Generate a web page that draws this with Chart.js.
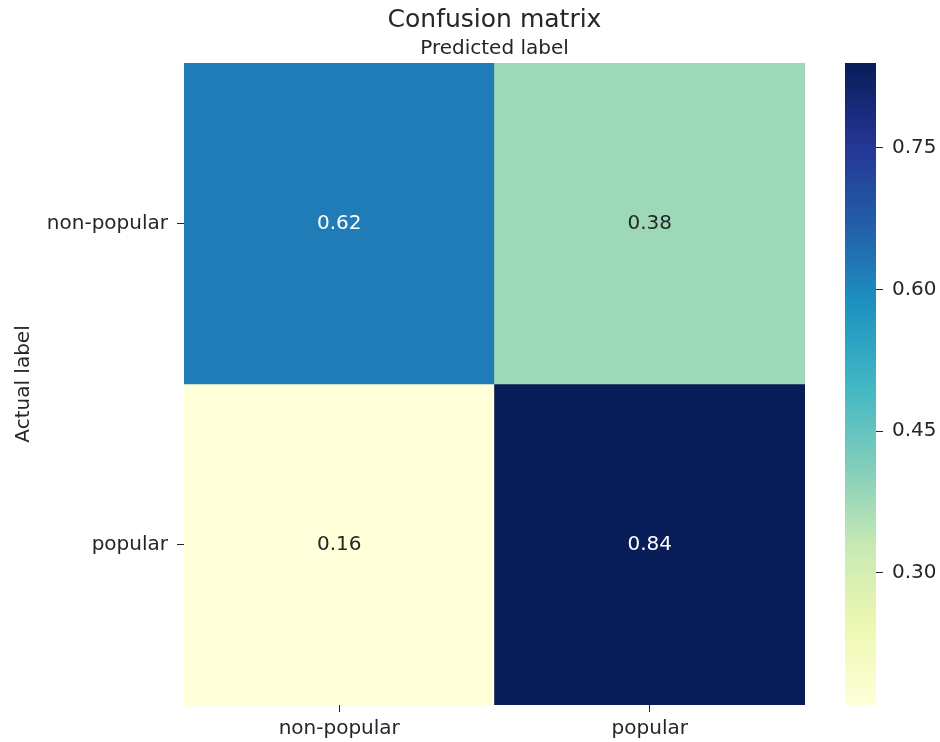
<!DOCTYPE html>
<html>
<head>
<meta charset="utf-8">
<script src="https://cdn.jsdelivr.net/npm/chart.js@4"></script>
<style>
  html, body { margin: 0; padding: 0; background: #fff; }
  #wrap { position: relative; width: 940px; height: 742px; }
  #wrap canvas { position: absolute; left: 0; top: 0; }
</style>
</head>
<body>
<div id="wrap">
  <canvas id="heatmap" width="940" height="742"></canvas>
  <canvas id="colorbar" width="940" height="742"></canvas>
</div>
<script>
/* ============================================
   Confusion matrix heatmap (YlGnBu)
   ============================================ */

// --- data ---
const predictedLabels = ['non-popular', 'popular'];
const actualLabels = ['non-popular', 'popular'];
const rowNonPopular = [0.62, 0.38];
const rowPopular = [0.16, 0.84];
const colorbarTicks = [0.30, 0.45, 0.60, 0.75];

const rows = [rowNonPopular, rowPopular];
const allValues = rows.flat();
const vmin = Math.min(...allValues);
const vmax = Math.max(...allValues);

// matplotlib YlGnBu stops
const YLGNBU = ['#ffffd9', '#edf8b1', '#c7e9b4', '#7fcdbb', '#41b6c4',
                '#1d91c0', '#225ea8', '#253494', '#081d58'];
const TEXT = '#262626';
const FONT = "'DejaVu Sans', sans-serif";

function hexToRgb(h) {
  return [1, 3, 5].map(i => parseInt(h.substr(i, 2), 16));
}

function cmap(v) {
  let t = (v - vmin) / (vmax - vmin);
  t = Math.max(0, Math.min(1, t)) * (YLGNBU.length - 1);
  const i = Math.min(Math.floor(t), YLGNBU.length - 2);
  const f = t - i;
  const a = hexToRgb(YLGNBU[i]), b = hexToRgb(YLGNBU[i + 1]);
  return a.map((c, k) => Math.round(c + (b[k] - c) * f));
}

function rgbStr(c) { return 'rgb(' + c.join(',') + ')'; }

// seaborn picks annotation colour from relative luminance
function luminance(c) {
  const lin = c.map(x => {
    x = x / 255;
    return x <= 0.03928 ? x / 12.92 : Math.pow((x + 0.055) / 1.055, 2.4);
  });
  return 0.2126 * lin[0] + 0.7152 * lin[1] + 0.0722 * lin[2];
}

// annotations in the middle of each cell
const annotate = {
  id: 'annotate',
  afterDatasetsDraw(chart) {
    const ctx = chart.ctx;
    ctx.save();
    ctx.font = '20px ' + FONT;
    ctx.textAlign = 'center';
    ctx.textBaseline = 'middle';
    chart.data.datasets.forEach((ds, di) => {
      const meta = chart.getDatasetMeta(di);
      meta.data.forEach((bar, j) => {
        const v = ds.values[j];
        const c = cmap(v);
        ctx.fillStyle = luminance(c) > 0.408 ? TEXT : '#ffffff';
        ctx.fillText(v.toFixed(2), bar.x, (bar.y + bar.base) / 2);
      });
    });
    ctx.restore();
  }
};

// centre title + subtitle over the plot area (like matplotlib axes titles)
const centerTitles = {
  id: 'centerTitles',
  afterLayout(chart) {
    const area = chart.chartArea;
    chart.boxes.forEach(b => {
      if (b.position === 'top' && !b.axis) {
        b.left = area.left;
        b.right = area.right;
        b.width = area.right - area.left;
      }
    });
  }
};

new Chart(document.getElementById('heatmap'), {
  type: 'bar',
  data: {
    labels: predictedLabels,
    datasets: rows.map((row, i) => ({
      label: actualLabels[i],
      values: row,
      data: row.map(() => [i, i + 1]),
      backgroundColor: row.map(v => rgbStr(cmap(v))),
      borderWidth: 0,
      borderSkipped: false,
      grouped: false,
      categoryPercentage: 1,
      barPercentage: 1
    }))
  },
  options: {
    responsive: false,
    animation: false,
    layout: { padding: { left: 0, right: 135, top: 0, bottom: 0 } },
    plugins: {
      legend: { display: false },
      tooltip: { enabled: false },
      title: {
        display: true,
        text: 'Confusion matrix',
        color: TEXT,
        font: { family: FONT, size: 25, weight: 'normal' },
        padding: { top: 5, bottom: 1 }
      },
      subtitle: {
        display: true,
        text: 'Predicted label',
        color: TEXT,
        font: { family: FONT, size: 20, weight: 'normal' },
        padding: { top: 1, bottom: 2 }
      }
    },
    scales: {
      x: {
        type: 'category',
        offset: true,
        border: { display: false },
        grid: { drawOnChartArea: false, tickLength: 7, color: TEXT, offset: false },
        ticks: { color: TEXT, font: { family: FONT, size: 20 }, padding: 5, maxRotation: 0 },
        afterFit(scale) { scale.height = 37; }
      },
      y: {
        type: 'linear',
        min: 0,
        max: rows.length,
        reverse: true,
        border: { display: false },
        grid: { drawOnChartArea: false, tickLength: 7, color: TEXT },
        ticks: {
          color: TEXT,
          font: { family: FONT, size: 20 },
          padding: 9,
          callback: (v, i) => actualLabels[i]
        },
        afterBuildTicks(scale) {
          scale.ticks = actualLabels.map((_, i) => ({ value: i + 0.5 }));
        },
        title: {
          display: true,
          text: 'Actual label',
          color: TEXT,
          font: { family: FONT, size: 20 },
          padding: { top: 12, bottom: 0 }
        },
        afterFit(scale) { scale.width = 184; }
      }
    }
  },
  plugins: [annotate, centerTitles]
});

// colour bar: gradient painted through the colour bar's own scale
const gradientBar = {
  id: 'gradientBar',
  beforeDatasetsDraw(chart) {
    const { ctx, chartArea } = chart;
    const scale = chart.scales.y;
    ctx.save();
    for (let y = Math.floor(chartArea.top); y < chartArea.bottom; y++) {
      ctx.fillStyle = rgbStr(cmap(scale.getValueForPixel(y + 0.5)));
      ctx.fillRect(chartArea.left, y, chartArea.right - chartArea.left, 1);
    }
    ctx.restore();
  }
};

new Chart(document.getElementById('colorbar'), {
  type: 'scatter',
  data: { datasets: [{ data: [] }] },
  options: {
    responsive: false,
    animation: false,
    layout: { padding: { left: 845, right: 0, top: 63, bottom: 37 } },
    plugins: { legend: { display: false }, tooltip: { enabled: false } },
    scales: {
      x: { display: false, min: 0, max: 1 },
      y: {
        position: 'right',
        min: vmin,
        max: vmax,
        border: { display: false },
        grid: { drawOnChartArea: false, tickLength: 7, color: TEXT },
        ticks: {
          color: TEXT,
          font: { family: FONT, size: 20 },
          padding: 9,
          callback: v => v.toFixed(2)
        },
        afterBuildTicks(scale) {
          scale.ticks = colorbarTicks.map(v => ({ value: v }));
        },
        afterFit(scale) { scale.width = 64; }
      }
    }
  },
  plugins: [gradientBar]
});
</script>
</body>
</html>
